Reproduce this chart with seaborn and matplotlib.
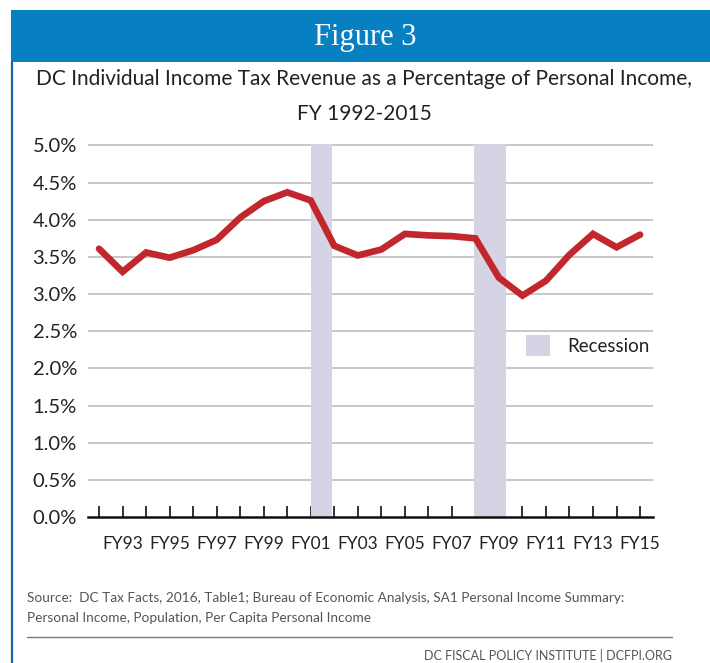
import matplotlib
matplotlib.use("Agg")
import matplotlib.pyplot as plt
from matplotlib.patches import Patch, Rectangle
from matplotlib.lines import Line2D
import seaborn as sns
import pandas as pd

# Fiscal years and revenue share (% of personal income)
years = [f"FY{y % 100:02d}" for y in range(1992, 2016)]
tax_share = [3.61, 3.30, 3.56, 3.49, 3.59, 3.73, 4.03, 4.25, 4.37, 4.26,
             3.65, 3.52, 3.60, 3.81, 3.79, 3.78, 3.75, 3.22, 2.98, 3.18,
             3.53, 3.81, 3.63, 3.80]
# Recession shading spans, in year-index units
recessions = [(9.0, 9.9), (15.95, 17.3)]
y_ticks = [0.0, 0.5, 1.0, 1.5, 2.0, 2.5, 3.0, 3.5, 4.0, 4.5, 5.0]

df = pd.DataFrame({"pos": range(len(years)), "year": years, "share": tax_share})

sns.set_theme(style="white")
plt.rcParams["font.family"] = ["Lato", "DejaVu Sans"]

fig = plt.figure(figsize=(7.1, 6.63), dpi=100)
W, H = 710, 663

def fx(px):
    return px / W

def fy(py):
    return 1 - py / H

# Header band and frame line
fig.patches.append(Rectangle((fx(11), fy(62)), fx(699), 52 / H, transform=fig.transFigure,
                             facecolor="#0680c1", edgecolor="none", zorder=0))
fig.lines.append(Line2D([fx(12), fx(12)], [fy(62), 0], transform=fig.transFigure,
                        color="#1766ad", linewidth=1.6))
fig.text(fx(365), fy(38), "Figure 3", ha="center", va="center", color="white",
         fontsize=22, family=["Liberation Serif", "DejaVu Serif"])

fig.text(fx(364), fy(79), "DC Individual Income Tax Revenue as a Percentage of Personal Income,",
         ha="center", va="center", fontsize=15, color="#222222")
fig.text(fx(364), fy(114), "FY 1992-2015", ha="center", va="center", fontsize=15, color="#222222")

ax = fig.add_axes([fx(88), fy(517), fx(653 - 88), (517 - 144) / H])

for x0, x1 in recessions:
    ax.axvspan(x0, x1, ymin=0, ymax=1, color="#d4d4e4", linewidth=0, zorder=1)

for t in y_ticks[1:]:
    ax.axhline(t, color="#bdbdbd", linewidth=1.2, zorder=0.5)

sns.lineplot(data=df, x="pos", y="share", ax=ax, color="#c1272d", linewidth=4.8,
             zorder=3, solid_joinstyle="miter")

ax.set_xlim(-0.47, 23.55)
ax.set_ylim(0, 5.02)
ax.set_yticks(y_ticks)
ax.set_yticklabels([f"{v:.1f}%" for v in y_ticks], fontsize=14.5, color="#222222")
ax.set_xticks(df["pos"])
ax.set_xticklabels([lab if i % 2 == 1 else "" for i, lab in enumerate(years)],
                   fontsize=12.5, color="#222222")
ax.tick_params(axis="x", direction="in", length=8, width=1.2, color="#111111", pad=14, bottom=True)
ax.tick_params(axis="y", length=0, pad=8)
ax.set_xlabel("")
ax.set_ylabel("")
for side in ["top", "right", "left"]:
    ax.spines[side].set_visible(False)
ax.spines["bottom"].set_color("#111111")
ax.spines["bottom"].set_linewidth(1.8)
ax.spines["bottom"].set_zorder(4)

handle = Patch(facecolor="#d4d4e4", edgecolor="none", label="Recession")
ax.legend(handles=[handle], loc="center left", bbox_to_anchor=(0.745, 0.46), frameon=False,
          fontsize=13.5, handlelength=1.3, handleheight=1.3, handletextpad=0.9,
          labelcolor="#222222")

fig.text(fx(27), fy(598), "Source:  DC Tax Facts, 2016, Table1; Bureau of Economic Analysis, SA1 Personal Income Summary:",
         ha="left", va="center", fontsize=9.8, color="#555555")
fig.text(fx(27), fy(618), "Personal Income, Population, Per Capita Personal Income",
         ha="left", va="center", fontsize=9.8, color="#555555")
fig.lines.append(Line2D([fx(27), fx(672)], [fy(637), fy(637)], transform=fig.transFigure,
                        color="#777777", linewidth=1.0))
fig.text(fx(672), fy(655), "DC FISCAL POLICY INSTITUTE | DCFPI.ORG", ha="right", va="center",
         fontsize=9.0, color="#555555")

fig.savefig("out.png", dpi=100, facecolor="white")
